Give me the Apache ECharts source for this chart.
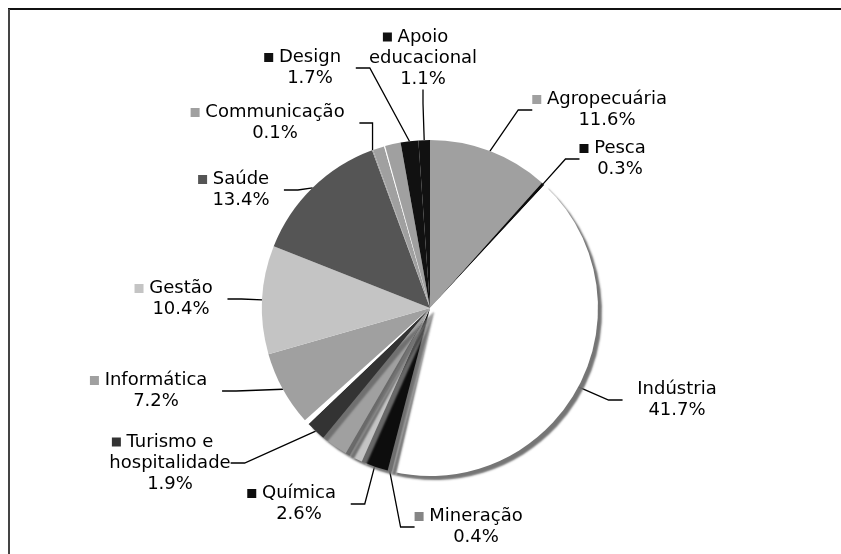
<!DOCTYPE html>
<html><head><meta charset="utf-8">
<script src="https://cdn.jsdelivr.net/npm/echarts@6/dist/echarts.min.js"></script>
<style>html,body{margin:0;padding:0;background:#fff}#c{width:841px;height:554px}</style>
</head><body><div id="c"></div>
<script>
// slices clockwise from 12 o'clock; '' = unlabeled slice
const categories = ['Agropecuária','Pesca','Indústria','Mineração','Química','','','','Turismo e\nhospitalidade','','Informática','Gestão','Saúde','Communicação','','','','Design','Apoio\neducacional'];
const values = [11.6,0.3,41.7,0.4,2.6,1.3,0.4,2.6,1.9,0.5,7.2,10.4,13.4,0.1,1.1,0.1,1.5,1.7,1.1];

// styling (not data)
const colors = ['#a0a0a0','#0d0d0d','#ffffff','#858585','#0d0d0d','#c4c4c4','#2a2a2a','#a0a0a0','#333333','#ffffff','#a0a0a0','#c4c4c4','#555555','#a0a0a0','#a0a0a0','#ffffff','#a0a0a0','#111111','#111111'];
const shadowed = [false,false,true,true,true,true,true,true,true,false,false,false,false,false,false,false,false,false,false];
const labelPos = [[607,110],[620,159],[677,400],[476,527],[299,504],null,null,null,[170,463],null,[156,391],[181,299],[241,190],[275,123],null,null,null,[310,68],[423,58]];

const chart = echarts.init(document.getElementById('c'), null, {renderer:'canvas'});
const data = values.map((v,i)=>{
  const named = categories[i] !== '';
  const itemStyle = {color: colors[i]};
  if (shadowed[i]) {
    Object.assign(itemStyle, {shadowColor: 'rgba(110,110,110,0.95)', shadowBlur: 2, shadowOffsetX: 4, shadowOffsetY: 4});
  }
  return {
    name: categories[i] || ('s'+i),
    value: v,
    itemStyle: itemStyle,
    label: named ? {
      show: true,
      rich: {
        box: {width: 9, height: 9, backgroundColor: colors[i], fontSize: 18, lineHeight: 21},
        pad: {width: 9, height: 9, fontSize: 18, lineHeight: 21}
      }
    } : {show: false},
    labelLine: {show: named}
  };
});

chart.setOption({
  animation: false,
  backgroundColor: '#ffffff',
  graphic: [
    {type:'line', shape:{x1:8,y1:9,x2:841,y2:9}, style:{stroke:'#111', lineWidth:2}, z:100},
    {type:'line', shape:{x1:9,y1:9,x2:9,y2:554}, style:{stroke:'#444', lineWidth:2}, z:100}
  ],
  series: [{
    type: 'pie',
    center: [430, 308],
    radius: 168,
    startAngle: 90,
    clockwise: true,
    avoidLabelOverlap: false,
    itemStyle: {borderWidth: 0},
    emphasis: {disabled: true},
    label: {
      show: true,
      fontFamily: 'DejaVu Sans',
      fontSize: 18,
      lineHeight: 21,
      color: '#000',
      align: 'center',
      formatter: function(p){
        const lines = categories[p.dataIndex].split('\n');
        let s = '{box|} ' + lines[0] + ' {pad|}';
        for (let k = 1; k < lines.length; k++) s += '\n' + lines[k];
        s += '\n' + values[p.dataIndex].toFixed(1) + '%';
        return s;
      }
    },
    labelLine: {show: true, length: 10, length2: 14, smooth: false, lineStyle: {color: '#000', width: 1.3}},
    labelLayout: function(params){
      const p = labelPos[params.dataIndex];
      if (!p) return {};
      return {x: p[0], y: p[1], align: 'center', verticalAlign: 'middle'};
    },
    data: data
  }]
});
</script>
</body></html>
